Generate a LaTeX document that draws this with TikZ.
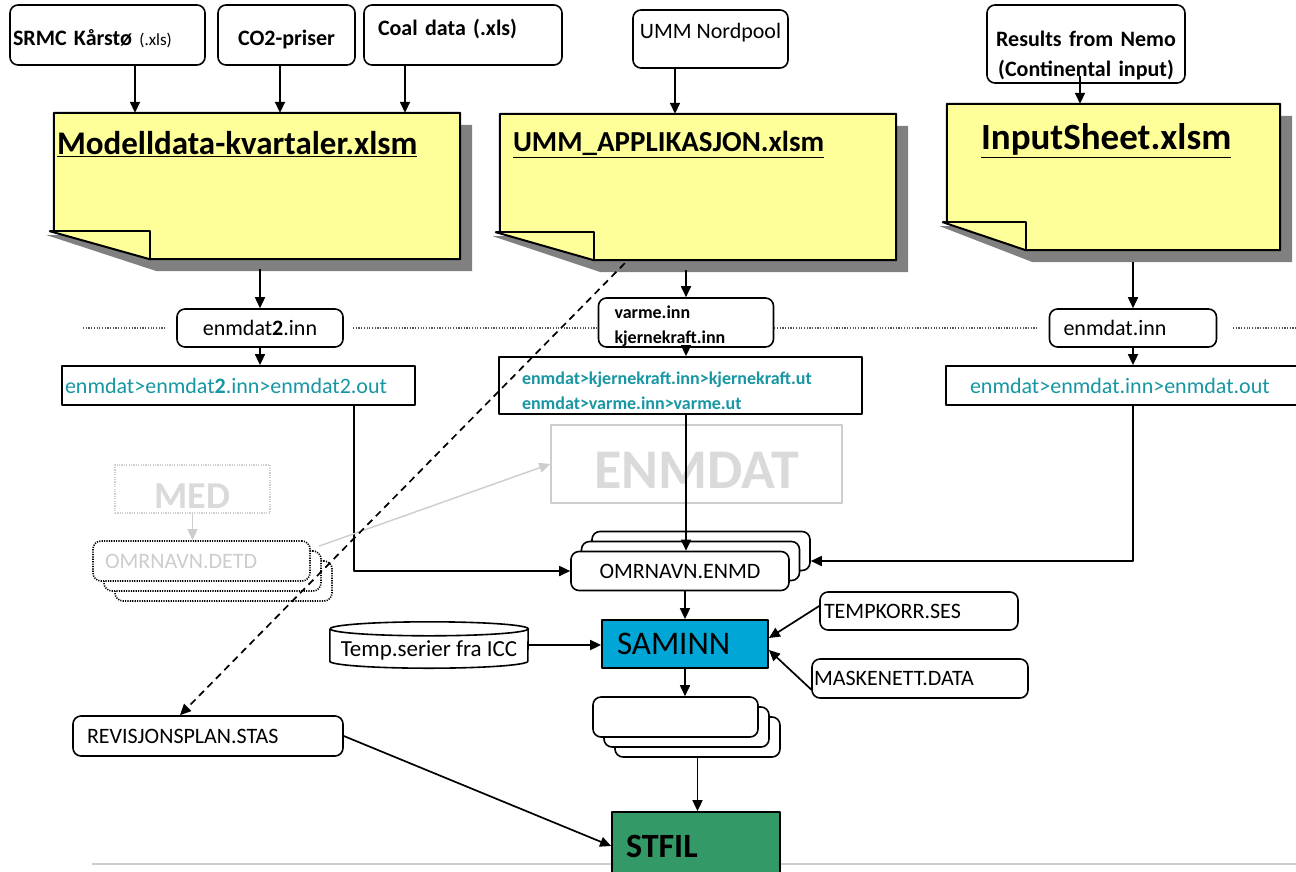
\documentclass[tikz,border=0pt]{standalone}
\usepackage{fontspec}
\setmainfont{Carlito}
\usetikzlibrary{arrows.meta,calc}
\definecolor{notefill}{RGB}{255,255,153}
\definecolor{notegray}{RGB}{128,128,128}
\definecolor{cmdteal}{RGB}{23,150,163}
\definecolor{saminnblue}{RGB}{0,166,214}
\definecolor{stfilgreen}{RGB}{51,153,102}
\definecolor{faded}{RGB}{205,205,205}
\definecolor{fadedtext}{RGB}{218,218,218}
\newcommand{\fs}[2]{\fontsize{#1}{#2}\selectfont}
\begin{document}
\begin{tikzpicture}[x=1pt,y=-1pt,line join=round,>={Triangle[length=11pt,width=10pt]}]
      \tikzstyle{file}=[draw,fill=white,line width=1.6pt,rounded corners=8pt,inner sep=0pt,font=\fs{22}{27}]
      \tikzstyle{src}=[file,font=\bfseries\fs{22}{30}]
      \tikzstyle{job}=[draw,fill=white,line width=1.8pt,inner sep=0pt,font=\fs{22}{27}]
      \tikzstyle{note}=[inner sep=0pt]
      \tikzstyle{notetitle}=[inner sep=0pt,anchor=base west]
      \tikzstyle{ghost}=[draw=faded,line width=1.6pt,text=fadedtext,inner sep=0pt]
      \tikzstyle{stackdot}=[file,dash pattern=on 1.2pt off 1.2pt]
      \tikzstyle{arr}=[->,line width=1.7pt]

      \path[use as bounding box,fill=white] (0,0) rectangle (1296,871);

      \draw[black!65,line width=1.2pt,dash pattern=on 1.2pt off 1.5pt] (83,328) -- (165,328) (353,328) -- (1037,328) (1233,328) -- (1296,328);
      \draw[faded,line width=1.5pt] (92,864) -- (1296,864);

      \node[src,minimum width=195,minimum height=60,text width=189,align=left,text height=20pt,text depth=0pt] (srmc) at (107.5,35) {SRMC Kårstø {\mdseries\fs{17}{20}(.xls)}};
      \node[src,minimum width=137,minimum height=60,text height=20pt,text depth=0pt] (co2) at (286.5,35) {CO2-priser};
      \node[src,minimum width=198,minimum height=60,text width=170,align=left,text depth=16pt] (coal) at (463,35) {Coal data (.xls)};
      \node[file,minimum width=155,minimum height=58,text depth=16pt] (nord) at (710.5,39) {UMM Nordpool};
      \node[src,minimum width=198,minimum height=78,text width=190,align=center,text height=16pt,text depth=12pt] (nemo) at (1086,44) {Results from Nemo\\(Continental input)};

      \node[note,minimum width=406,minimum height=146] (modell) at (257,186) {};
      \node[note,minimum width=396,minimum height=146] (umm) at (698,187) {};
      \node[note,minimum width=333,minimum height=146] (input) at (1113.5,177) {};
      \foreach \n/\f in {modell/96,umm/94,input/79}{
        \fill[notegray] ($(\n.north west)+(12,12)$) -- ($(\n.north east)+(12,12)$) -- ($(\n.south east)+(12,12)$)
          -- ($(\n.south west)+(\f+7,12)$) -- ($(\n.south west)+(-7,-24)$) -- ($(\n.south west)+(12,-24)$) -- cycle;
        \filldraw[fill=notefill,line width=2pt] (\n.north west) -- (\n.north east) -- (\n.south east)
          -- ($(\n.south west)+(\f,0)$) -- ($(\n.south west)+(-4,-28)$) -- ($(\n.south west)+(0,-28)$) -- cycle;
        \draw[line width=2pt] ($(\n.south west)+(-4,-28)$) -- ($(\n.south west)+(\f,-28)$) -- ($(\n.south west)+(\f,0)$);
      }
      \node[notetitle,font=\bfseries\fs{33}{40}] (modelltitle) at ($(modell.north west)+(3,42)$) {\underline{Modelldata-kvartaler.xlsm}};
      \node[notetitle,font=\bfseries\fs{29}{34}] (ummtitle) at ($(umm.north west)+(13,38)$) {\underline{UMM\_APPLIKASJON.xlsm}};
      \node[notetitle,font=\bfseries\fs{37}{42}] (inputtitle) at ($(input.north west)+(34,46)$) {\underline{InputSheet.xlsm}};

      \node[file,minimum width=166,minimum height=38] (enm2) at (260,328) {enmdat\textbf{2}.inn};
      \node[file,minimum width=175,minimum height=49,text width=143,align=left,font=\bfseries\fs{18}{25},text height=14pt,text depth=23pt] (varme) at (686,322.5) {varme.inn\\kjernekraft.inn};
      \node[file,minimum width=167,minimum height=38,text width=139,align=left] (enin) at (1133,328) {enmdat.inn};

      \node[job,minimum width=353,minimum height=39,text width=347,align=left,text=cmdteal] (run2) at (238.5,385.5) {enmdat>enmdat\textbf{2}.inn>enmdat2.out};
      \node[job,minimum width=363,minimum height=57,text width=317,align=left,text=cmdteal,font=\bfseries\fs{18}{25},text height=14pt,text depth=17pt] (runk) at (680.5,385.5) {enmdat>kjernekraft.inn>kjernekraft.ut\\enmdat>varme.inn>varme.ut};
      \node[job,minimum width=364,minimum height=39,text width=316,align=left,text=cmdteal] (run3) at (1128,385.5) {enmdat>enmdat.inn>enmdat.out};

      \node[ghost,minimum width=291,minimum height=78,font=\bfseries\fs{56}{60},text height=48pt] (enmdat) at (696.5,464) {ENMDAT};
      \node[ghost,dash pattern=on 1.2pt off 1.2pt,minimum width=155,minimum height=48,font=\bfseries\fs{38}{40},text height=38pt,text depth=0pt] (med) at (192.5,489) {MED};
      \foreach \k in {2,1} \node[stackdot,minimum width=217,minimum height=40] (detd\k) at (201.5+\k*11,561+\k*10) {};
      \node[stackdot,minimum width=217,minimum height=40,text width=193,align=left,text=faded] (detd) at (201.5,561) {OMRNAVN.DETD};

      \foreach \k in {2,1} \node[file,minimum width=218,minimum height=39] (enmd\k) at (680+\k*10.5,571-\k*10) {};
      \node[file,minimum width=218,minimum height=39] (enmd) at (680,571) {OMRNAVN.ENMD};

      \node[job,fill=saminnblue,minimum width=166,minimum height=48,text width=136,align=left,font=\fs{33}{36}] (saminn) at (685,644) {SAMINN};
      \node[inner sep=0pt,minimum width=198,minimum height=46,font=\fs{23}{27},text height=27pt,text depth=5pt] (temp) at (429,645) {Temp.serier fra ICC};
      \draw[line width=1.6pt] ($(temp.north west)+(0,7)$) -- ($(temp.south west)+(0,-7)$) arc[start angle=180,end angle=360,x radius=99pt,y radius=7pt]
        -- ($(temp.north east)+(0,7)$) arc[start angle=0,end angle=180,x radius=99pt,y radius=7pt] arc[start angle=180,end angle=360,x radius=99pt,y radius=7pt];
      \node[file,minimum width=198,minimum height=38,text width=190,align=left] (tempk) at (919,611) {TEMPKORR.SES};
      \node[file,minimum width=216,minimum height=39,text width=212,align=left] (maske) at (920,678.5) {MASKENETT.DATA};

      \foreach \k in {2,1} \node[file,minimum width=165,minimum height=40] (out\k) at (675.5+\k*11,717+\k*10) {};
      \node[file,minimum width=165,minimum height=40] (out) at (675.5,717) {};

      \node[file,minimum width=270,minimum height=40,text width=242,align=left] (revis) at (208,736) {REVISJONSPLAN.STAS};
      \node[job,fill=stfilgreen,minimum width=168,minimum height=68,text width=140,align=left,font=\bfseries\fs{34}{38}] (stfil) at (696,846) {STFIL};

      \draw[arr] ($(srmc.south)+(27.5,0)$) -- ($(srmc.south |- modell.north)+(27.5,0)$);
      \draw[arr] ($(co2.south)+(-6.5,0)$) -- ($(co2.south |- modell.north)+(-6.5,0)$);
      \draw[arr] ($(coal.south)+(-58,0)$) -- ($(coal.south |- modell.north)+(-58,0)$);
      \draw[arr] ($(nord.south)+(-35.5,0)$) -- ($(nord.south |- umm.north)+(-35.5,0)$);
      \draw[arr] ($(nemo.south)+(-6,-8)$) -- ($(nemo.south |- input.north)+(-6,0)$);
      \draw[arr] ($(enm2 |- modell.south)+(0,10)$) -- (enm2.north);
      \draw[arr] ($(varme |- umm.south)+(0,10)$) -- (varme.north);
      \draw[arr] ($(enin |- input.south)+(0,12)$) -- (enin.north);
      \draw[arr] (enm2.south) -- (enm2.south |- run2.north);
      \draw[arr] (varme.south) -- (varme.south |- runk.north);
      \draw[arr] (enin.south) -- (enin.south |- run3.north);
      \draw[arr] ($(run2.south east)+(-62,0)$) |- (enmd.west);
      \draw[arr] (runk.south -| varme) -- (varme |- enmd.north);
      \draw[arr] (run3.south -| enin) |- (enmd1.east -| enmd2.east);
      \draw[->,faded,line width=1.4pt] (med.south) -- (med.south |- detd.north);
      \draw[->,faded,line width=1.4pt] ($(detd.north east)+(8,6)$) -- (enmdat.west);
      \draw[arr] (saminn.north |- enmd.south) -- (saminn.north);
      \draw[arr] (temp.east) -- (saminn.west |- temp.east);
      \draw[arr] ($(tempk.west)+(0,-5)$) -- ($(saminn.east)+(0,-6)$);
      \draw[arr] ($(maske.west)+(0,11)$) -- ($(saminn.east)+(0,6)$);
      \draw[arr] (saminn.south) -- (saminn.south |- out.north);
      \draw[arr] (out2.south) -- (out2.south |- stfil.north);
      \draw[arr] (revis.east) -- (stfil.west);
      \draw[arr,dash pattern=on 7pt off 5pt] ($(umm.south west)+(125,3)$) -- ($(revis.north)+(-28,0)$);
\end{tikzpicture}
\end{document}
